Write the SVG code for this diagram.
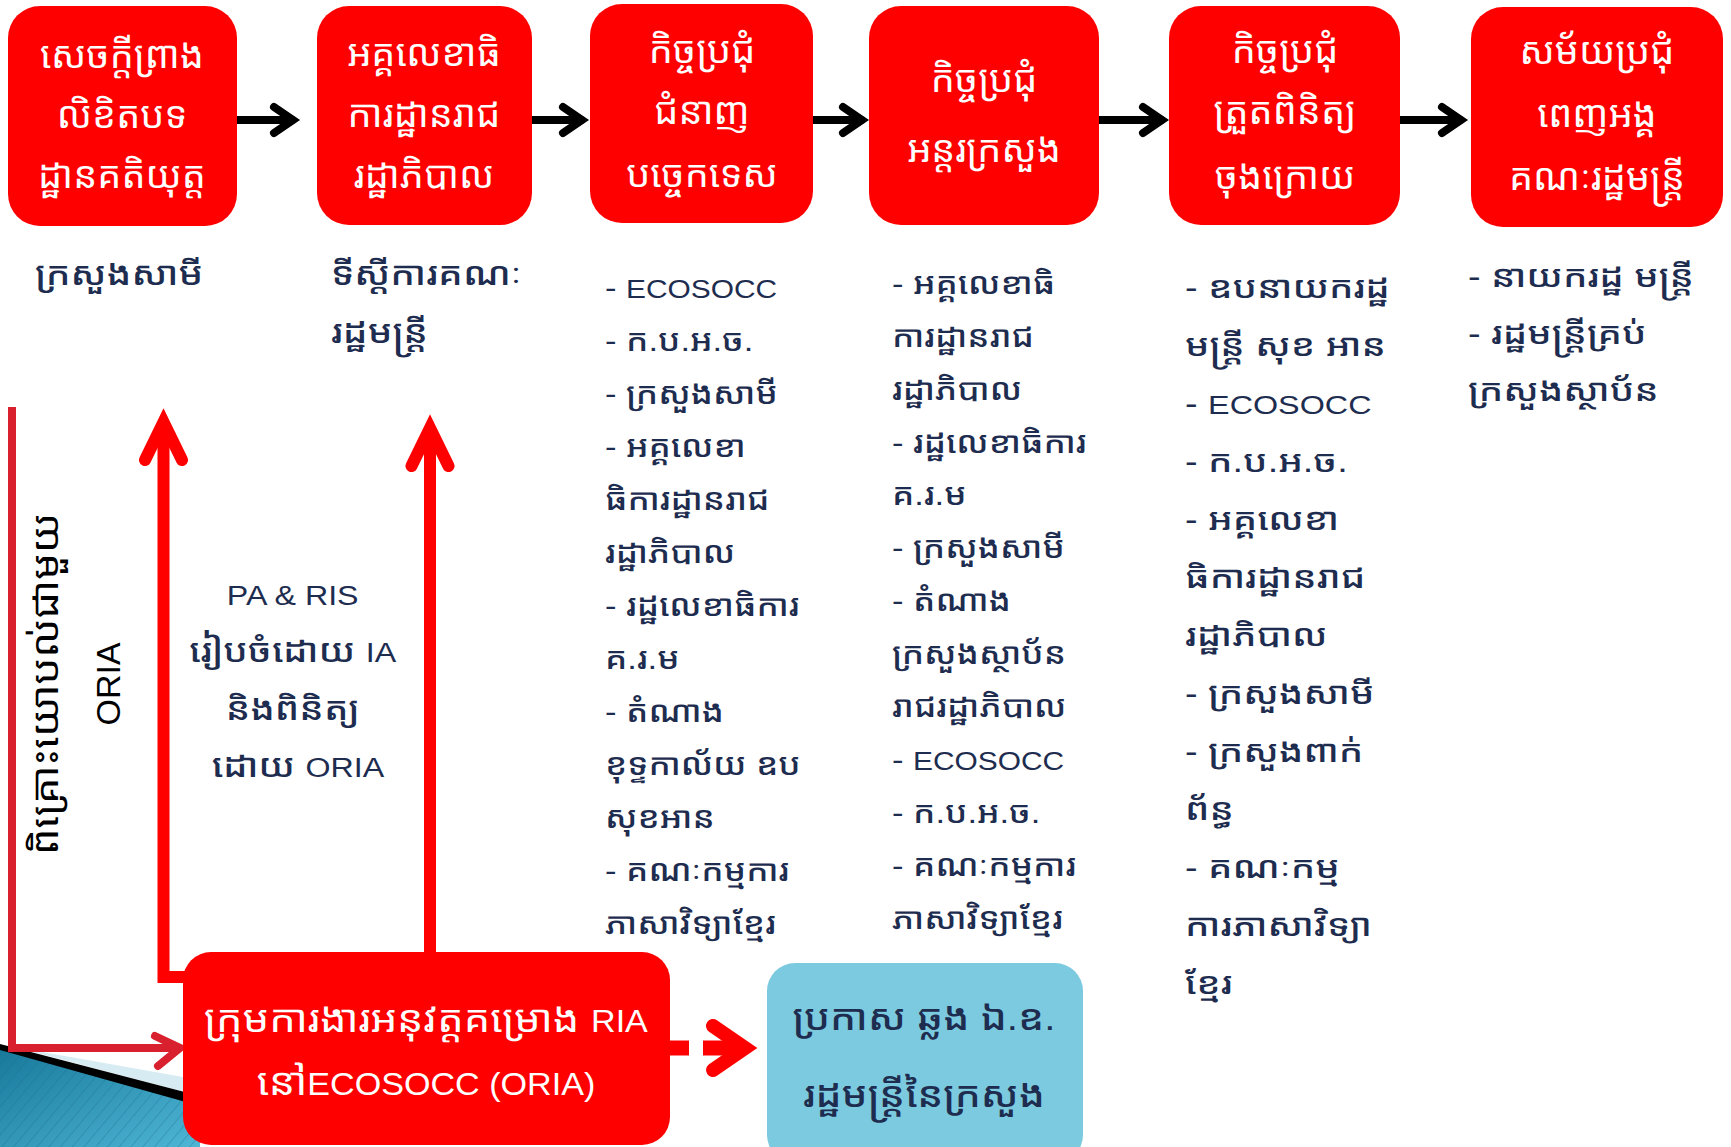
<svg xmlns="http://www.w3.org/2000/svg" width="1731" height="1147" viewBox="0 0 1731 1147">
<defs>
<style>
.box{fill:#ff0000;}
.wt{font-family:"Liberation Sans","Noto Sans Khmer",sans-serif;fill:#ffffff;font-size:38px;text-anchor:middle;}
.nv{font-family:"Liberation Sans","Noto Sans Khmer",sans-serif;fill:#1e2d4f;font-weight:500;}
.c34{font-size:30px;}
.c56{font-size:31px;}
.lat34{font-size:26px;}
.lat56{font-size:26.5px;}
.blk{stroke:#000;stroke-width:8;fill:none;stroke-linecap:round;stroke-linejoin:miter;}
.red{stroke:#ff0000;stroke-width:12;fill:none;stroke-linejoin:miter;}
.redh{stroke:#ff0000;stroke-width:12;fill:none;stroke-linecap:round;stroke-linejoin:miter;}
.crim{stroke:#d9202e;stroke-width:8;fill:none;}
</style>
<linearGradient id="bg" x1="0" y1="0" x2="1" y2="1">
<stop offset="0" stop-color="#17789a"/>
<stop offset="1" stop-color="#4fb6d6"/>
</linearGradient>
<pattern id="stripes" width="9" height="9" patternUnits="userSpaceOnUse" patternTransform="rotate(40)">
<line x1="0" y1="0" x2="0" y2="9" stroke="#1d6f8e" stroke-opacity="0.35" stroke-width="2"/>
</pattern>
</defs>
<rect width="1731" height="1147" fill="#ffffff"/>
<g id="decoration">
<polygon points="0,1046 200,1104 200,1147 0,1147" fill="url(#bg)"/>
<polygon points="0,1046 200,1104 200,1147 0,1147" fill="url(#stripes)"/>
<polygon points="14,1047 200,1080 200,1096" fill="#d6ebf2"/>
<polygon points="0,1044 200,1096 200,1106 0,1050" fill="#000"/>
</g>
<g id="connectors">
<line class="blk" x1="237" y1="120" x2="292" y2="120"/>
<polyline class="blk" points="274,107 293,120 274,133"/>
<line class="blk" x1="532" y1="120" x2="581" y2="120"/>
<polyline class="blk" points="563,107 582,120 563,133"/>
<line class="blk" x1="813" y1="120" x2="861" y2="120"/>
<polyline class="blk" points="843,107 862,120 843,133"/>
<line class="blk" x1="1099" y1="120" x2="1161" y2="120"/>
<polyline class="blk" points="1143,107 1162,120 1143,133"/>
<line class="blk" x1="1400" y1="120" x2="1460" y2="120"/>
<polyline class="blk" points="1442,107 1461,120 1442,133"/>
<polyline class="crim" points="12,407 12,1048 180,1048"/>
<polyline class="crim" points="155,1036 180,1048 158,1066" stroke-linecap="round"/>
<polyline class="red" points="186,977 163.5,977 163.5,425"/>
<polyline class="redh" points="145,460 163.5,422 182,460"/>
<line class="red" x1="430" y1="955" x2="430" y2="430"/>
<polyline class="redh" points="411.5,466 430,428 448.5,466"/>
<line stroke="#ff0000" stroke-width="15" x1="665" y1="1048" x2="689" y2="1048"/>
<line stroke="#ff0000" stroke-width="15" x1="703" y1="1048" x2="745" y2="1048"/>
<polyline stroke="#ff0000" stroke-width="14" fill="none" stroke-linecap="round" stroke-linejoin="miter" points="713,1026 745,1048 713,1070"/>
</g>
<g id="n1"><rect class="box" x="8" y="6" width="229" height="220" rx="32"/>
<text class="wt"><tspan x="122" y="68">សេចក្តីព្រាង</tspan><tspan x="122" y="128">លិខិតបទ</tspan><tspan x="122" y="188">ដ្ឋានគតិយុត្ត</tspan></text></g>
<g id="n2"><rect class="box" x="317" y="6" width="215" height="219" rx="32"/>
<text class="wt"><tspan x="424" y="66">អគ្គលេខាធិ</tspan><tspan x="424" y="127">ការដ្ឋានរាជ</tspan><tspan x="424" y="188">រដ្ឋាភិបាល</tspan></text></g>
<g id="n3"><rect class="box" x="590" y="4" width="223" height="219" rx="32"/>
<text class="wt"><tspan x="702" y="63">កិច្ចប្រជុំ</tspan><tspan x="702" y="124">ជំនាញ</tspan><tspan x="702" y="187">បច្ចេកទេស</tspan></text></g>
<g id="n4"><rect class="box" x="869" y="6" width="230" height="219" rx="32"/>
<text class="wt"><tspan x="984" y="92">កិច្ចប្រជុំ</tspan><tspan x="984" y="162">អន្តរក្រសួង</tspan></text></g>
<g id="n5"><rect class="box" x="1169" y="6" width="231" height="219" rx="32"/>
<text class="wt"><tspan x="1285" y="63">កិច្ចប្រជុំ</tspan><tspan x="1285" y="124">ត្រួតពិនិត្យ</tspan><tspan x="1285" y="189">ចុងក្រោយ</tspan></text></g>
<g id="n6"><rect class="box" x="1471" y="7" width="252" height="220" rx="32"/>
<text class="wt"><tspan x="1597" y="64">សម័យប្រជុំ</tspan><tspan x="1597" y="127">ពេញអង្គ</tspan><tspan x="1597" y="190">គណៈរដ្ឋមន្ត្រី</tspan></text></g>
<g id="t1"><text class="nv" style="font-size:33px" transform="matrix(1.16 0 0 1 -5.6 0)" x="35" y="285">ក្រសួងសាមី</text></g>
<g id="t2"><text class="nv" style="font-size:33px" transform="matrix(1.16 0 0 1 -52.96 0)"><tspan x="331" y="285">ទីស្តីការគណៈ</tspan><tspan x="331" y="343">រដ្ឋមន្ត្រី</tspan></text></g>
<g id="t3"><text class="nv c34" transform="matrix(1.15 0 0 1 -90.75 0)">
<tspan x="605" y="298">- <tspan class="lat34">ECOSOCC</tspan></tspan>
<tspan x="605" y="351">- ក.ប.អ.ច.</tspan>
<tspan x="605" y="404">- ក្រសួងសាមី</tspan>
<tspan x="605" y="457">- អគ្គលេខា</tspan>
<tspan x="605" y="510">ធិការដ្ឋានរាជ</tspan>
<tspan x="605" y="563">រដ្ឋាភិបាល</tspan>
<tspan x="605" y="616">- រដ្ឋលេខាធិការ</tspan>
<tspan x="605" y="669">គ.រ.ម</tspan>
<tspan x="605" y="722">- តំណាង</tspan>
<tspan x="605" y="775">ខុទ្ទកាល័យ ឧប</tspan>
<tspan x="605" y="828">សុខអាន</tspan>
<tspan x="605" y="881">- គណៈកម្មការ</tspan>
<tspan x="605" y="934">ភាសាវិទ្យាខ្មែរ</tspan>
</text></g>
<g id="t4"><text class="nv c34" transform="matrix(1.15 0 0 1 -133.8 0)">
<tspan x="892" y="294">- អគ្គលេខាធិ</tspan>
<tspan x="892" y="347">ការដ្ឋានរាជ</tspan>
<tspan x="892" y="400">រដ្ឋាភិបាល</tspan>
<tspan x="892" y="453">- រដ្ឋលេខាធិការ</tspan>
<tspan x="892" y="505">គ.រ.ម</tspan>
<tspan x="892" y="558">- ក្រសួងសាមី</tspan>
<tspan x="892" y="611">- តំណាង</tspan>
<tspan x="892" y="664">ក្រសួងស្ថាប័ន</tspan>
<tspan x="892" y="717">រាជរដ្ឋាភិបាល</tspan>
<tspan x="892" y="770">- <tspan class="lat34">ECOSOCC</tspan></tspan>
<tspan x="892" y="823">- ក.ប.អ.ច.</tspan>
<tspan x="892" y="876">- គណៈកម្មការ</tspan>
<tspan x="892" y="929">ភាសាវិទ្យាខ្មែរ</tspan>
</text></g>
<g id="t5"><text class="nv c56" transform="matrix(1.22 0 0 1 -260.7 0)">
<tspan x="1185" y="298">- ឧបនាយករដ្ឋ</tspan>
<tspan x="1185" y="356">មន្ត្រី សុខ អាន</tspan>
<tspan x="1185" y="414">- <tspan class="lat56">ECOSOCC</tspan></tspan>
<tspan x="1185" y="472">- ក.ប.អ.ច.</tspan>
<tspan x="1185" y="530">- អគ្គលេខា</tspan>
<tspan x="1185" y="588">ធិការដ្ឋានរាជ</tspan>
<tspan x="1185" y="646">រដ្ឋាភិបាល</tspan>
<tspan x="1185" y="704">- ក្រសួងសាមី</tspan>
<tspan x="1185" y="762">- ក្រសួងពាក់</tspan>
<tspan x="1185" y="820">ព័ន្ធ</tspan>
<tspan x="1185" y="878">- គណៈកម្ម</tspan>
<tspan x="1185" y="936">ការភាសាវិទ្យា</tspan>
<tspan x="1185" y="994">ខ្មែរ</tspan>
</text></g>
<g id="t6"><text class="nv c56" transform="matrix(1.22 0 0 1 -322.96 0)">
<tspan x="1468" y="287">- នាយករដ្ឋ មន្ត្រី</tspan>
<tspan x="1468" y="344">- រដ្ឋមន្ត្រីគ្រប់</tspan>
<tspan x="1468" y="401">ក្រសួងស្ថាប័ន</tspan>
</text></g>
<g id="pa"><text class="nv" style="font-size:33px;text-anchor:middle" transform="matrix(1.15 0 0 1 -44.7 0)">
<tspan x="298" y="605" style="font-size:28px">PA &amp; RIS</tspan>
<tspan x="298" y="662">រៀបចំដោយ  <tspan style="font-size:28px">IA</tspan></tspan>
<tspan x="298" y="720">និងពិនិត្យ</tspan>
<tspan x="298" y="777">ដោយ <tspan style="font-size:28px">ORIA</tspan></tspan>
</text></g>
<g id="vt">
<text transform="translate(58,684) rotate(-90) scale(1.11,1)" style="font-family:'Noto Sans Khmer',sans-serif;font-size:38px;fill:#000;text-anchor:middle" x="0" y="0">ពិគ្រោះយោបល់ជាមួយ</text>
<text transform="translate(120,684) rotate(-90)" style="font-family:'Liberation Sans',sans-serif;font-size:34px;fill:#000;text-anchor:middle" x="0" y="0">ORIA</text>
</g>
<g id="oria"><rect class="box" x="183" y="952" width="487" height="193" rx="28"/>
<text class="wt" style="font-size:38px" transform="matrix(1.1 0 0 1 -42.6 0)"><tspan x="426" y="1032">ក្រុមការងារអនុវត្តគម្រោង <tspan style="font-size:31px">RIA</tspan></tspan><tspan x="426" y="1095">នៅ<tspan style="font-size:31px">ECOSOCC (ORIA)</tspan></tspan></text></g>
<g id="blue"><rect x="767" y="963" width="316" height="200" rx="28" fill="#7ccadf"/>
<text class="nv" style="font-size:36px;text-anchor:middle" transform="matrix(1.12 0 0 1 -110.9 0)"><tspan x="924" y="1030">ប្រកាស ឆ្លង ឯ.ឧ.</tspan><tspan x="924" y="1107">រដ្ឋមន្ត្រីនៃក្រសួង</tspan></text></g>
</svg>
